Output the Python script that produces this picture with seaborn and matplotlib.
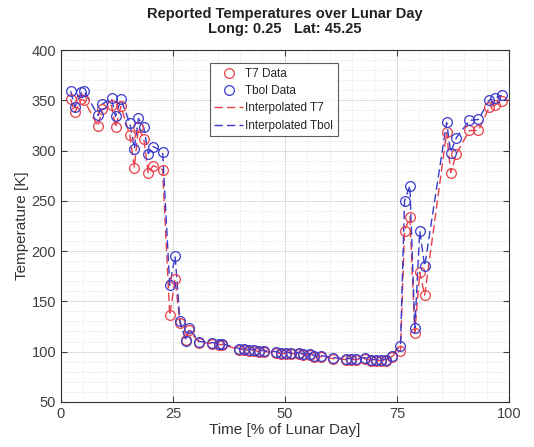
import numpy as np
import pandas as pd
import matplotlib
matplotlib.use('Agg')
import matplotlib.pyplot as plt
from matplotlib.lines import Line2D
from matplotlib.ticker import MultipleLocator
import seaborn as sns

# time in % of lunar day, shared by both sensors
time_pct = [2.2, 3.1, 4.6, 5.2, 8.3, 9.2, 11.3, 12.2, 13.4, 15.4, 16.4, 17.3, 18.5, 19.5, 20.6, 22.7,
            24.3, 25.5, 26.6, 27.9, 28.6, 30.9,
            33.7, 35.3, 35.9, 39.8, 40.9, 42.0, 43.2, 44.3, 45.4, 48.0, 49.1, 50.3, 51.4, 53.2,
            54.0, 55.5, 56.6, 58.1, 60.7, 63.7, 64.8, 65.9, 67.8, 69.3, 70.4, 71.5, 72.6,
            73.8, 75.8, 76.7, 77.9, 79.0, 80.1, 81.2,
            86.1, 87.0, 88.3, 91.2, 93.2, 95.6, 96.8, 98.4]

t7_data = [351, 338, 351, 350, 324, 341, 345, 323, 344, 315, 283, 323, 312, 278, 285, 281,
           136, 172, 128, 112, 121, 109,
           108, 107, 107, 102, 102, 101, 101, 100, 100, 99, 98, 98, 98, 98,
           97, 97, 95, 95, 93, 92, 92, 92, 93, 91, 91, 91, 91,
           95, 101, 220, 234, 119, 179, 156,
           318, 278, 297, 320, 320, 343, 345, 349]

tbol_data = [359, 343, 358, 359, 335, 346, 352, 334, 351, 327, 302, 332, 323, 297, 304, 299,
             166, 195, 130, 111, 123, 110,
             109, 108, 108, 103, 103, 102, 102, 101, 101, 100, 99, 99, 99, 99,
             98, 98, 96, 96, 94, 93, 93, 93, 94, 92, 92, 92, 92,
             96, 106, 250, 265, 123, 220, 185,
             328, 298, 313, 330, 331, 350, 352, 355]

df = pd.DataFrame({'time': time_pct, 'T7': t7_data, 'Tbol': tbol_data})

sns.set_theme(style="white")
plt.rcParams['font.family'] = ['Liberation Sans', 'DejaVu Sans']

red = '#e8404a'
blue = '#3a3acc'
dash = (0, (6, 3))

fig = plt.figure(figsize=(5.34, 4.47), dpi=100)
ax = fig.add_axes([0.114, 0.101, 0.839, 0.787])

sns.lineplot(data=df, x='time', y='T7', ax=ax, color=red, linestyle=dash,
             linewidth=1.0, estimator=None, zorder=2)
sns.lineplot(data=df, x='time', y='Tbol', ax=ax, color=blue, linestyle=dash,
             linewidth=1.0, estimator=None, zorder=2)
ax.plot(df['time'], df['T7'], 'o', mfc='none', mec=red, ms=7, mew=0.9, zorder=3)
ax.plot(df['time'], df['Tbol'], 'o', mfc='none', mec=blue, ms=7, mew=0.9, zorder=3)

ax.set_xlim(0, 100)
ax.set_ylim(50, 400)
ax.xaxis.set_major_locator(MultipleLocator(25))
ax.xaxis.set_minor_locator(MultipleLocator(5))
ax.yaxis.set_major_locator(MultipleLocator(50))
ax.yaxis.set_minor_locator(MultipleLocator(10))
ax.grid(which='major', color='#d8d8d8', linewidth=0.6, linestyle='-')
ax.grid(which='minor', color='#dcdcdc', linewidth=0.6, linestyle=':')
ax.tick_params(which='major', direction='in', length=4, width=0.8, colors='#404040',
               labelsize=10.5, top=True, right=True, bottom=True, left=True)
ax.tick_params(which='minor', length=0)
for s in ax.spines.values():
    s.set_color('#333333')
    s.set_linewidth(0.8)

ax.set_xlabel('Time [% of Lunar Day]', fontsize=11, color='#333333', labelpad=2)
ax.set_ylabel('Temperature [K]', fontsize=11, color='#333333', labelpad=2)
ax.set_title('Reported Temperatures over Lunar Day\nLong: 0.25   Lat: 45.25',
             fontsize=10.5, fontweight='bold', color='#222222', pad=12, linespacing=1.15)

handles = [
    Line2D([], [], marker='o', linestyle='none', mfc='none', mec=red, ms=7, mew=0.9),
    Line2D([], [], marker='o', linestyle='none', mfc='none', mec=blue, ms=7, mew=0.9),
    Line2D([], [], color=red, linestyle=dash, linewidth=1.0),
    Line2D([], [], color=blue, linestyle=dash, linewidth=1.0),
]
labels = ['T7 Data', 'Tbol Data', 'Interpolated T7', 'Interpolated Tbol']
leg = ax.legend(handles, labels, loc='upper center', bbox_to_anchor=(0.475, 0.963),
                fontsize=8.5, frameon=True, fancybox=False, edgecolor='#333333',
                handlelength=2.4, handletextpad=0.2, labelspacing=0.45, borderpad=0.4,
                borderaxespad=0)
leg.get_frame().set_linewidth(0.8)

fig.savefig('out.png', dpi=100)
